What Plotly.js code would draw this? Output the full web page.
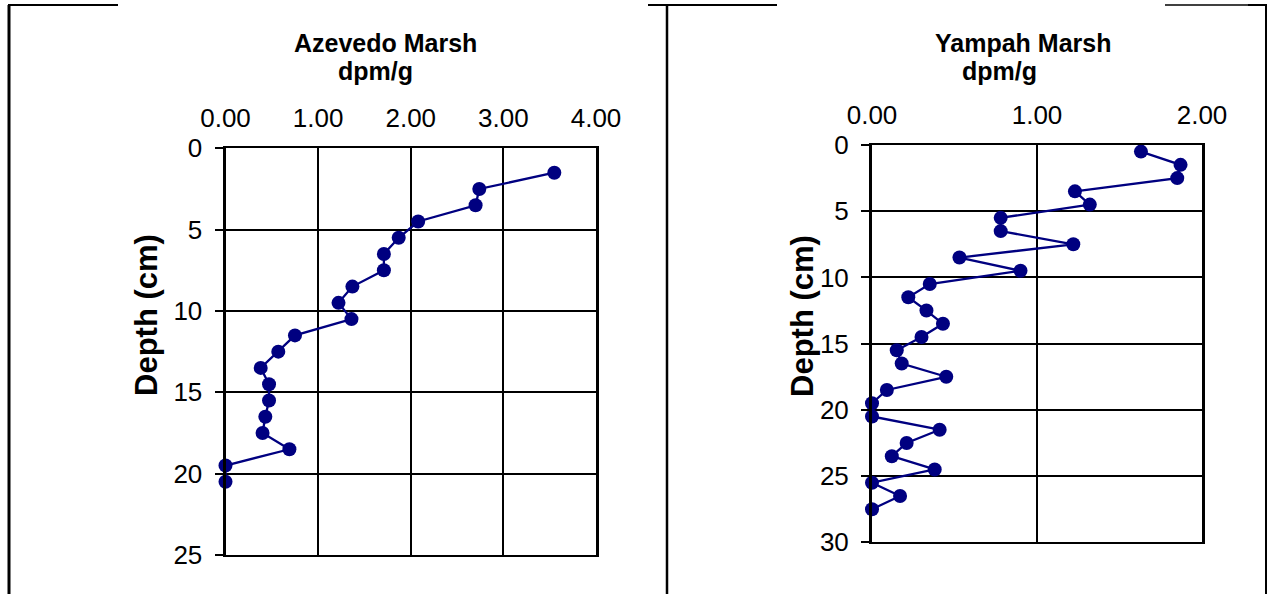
<!DOCTYPE html>
<html>
<head>
<meta charset="utf-8">
<script src="https://cdn.plot.ly/plotly-3.0.1.min.js"></script>
<style>
  html, body { margin: 0; padding: 0; background: #ffffff; }
  #chart { width: 1267px; height: 594px; }
</style>
</head>
<body>
<div id="chart"></div>
<script>
// ---- data ----
const azevedoDepth = [1.5, 2.5, 3.5, 4.5, 5.5, 6.5, 7.5, 8.5, 9.5, 10.5, 11.5, 12.5, 13.5, 14.5, 15.5, 16.5, 17.5, 18.5, 19.5, 20.5];
const azevedoDpm   = [3.55, 2.74, 2.70, 2.08, 1.87, 1.71, 1.71, 1.37, 1.22, 1.36, 0.75, 0.57, 0.38, 0.47, 0.47, 0.43, 0.40, 0.69, 0.00, 0.00];

const yampahDepth = [0.5, 1.5, 2.5, 3.5, 4.5, 5.5, 6.5, 7.5, 8.5, 9.5, 10.5, 11.5, 12.5, 13.5, 14.5, 15.5, 16.5, 17.5, 18.5, 19.5, 20.5, 21.5, 22.5, 23.5, 24.5, 25.5, 26.5, 27.5];
const yampahDpm   = [1.63, 1.87, 1.85, 1.23, 1.32, 0.78, 0.78, 1.22, 0.53, 0.90, 0.35, 0.22, 0.33, 0.43, 0.30, 0.15, 0.18, 0.45, 0.09, 0.00, 0.00, 0.41, 0.21, 0.12, 0.38, 0.00, 0.17, 0.00];

const chartTitles = ["Azevedo Marsh", "Yampah Marsh"];
const unitLabel = "dpm/g";
const depthLabel = "Depth (cm)";

// ---- layout helpers (pixel -> paper) ----
const W = 1267, H = 594;
const px = v => v / W;
const py = v => 1 - v / H;

const FONT = "Liberation Sans, Arial, sans-serif";
const NAVY = "#000080";

function trace(x, y, xa, ya) {
  return {
    x: x, y: y, xaxis: xa, yaxis: ya,
    type: "scatter", mode: "lines+markers",
    line: { color: NAVY, width: 2.3 },
    marker: { color: NAVY, size: 14 },
    cliponaxis: false,
    hoverinfo: "skip"
  };
}

function xAxis(domain, range, anchor) {
  return {
    domain: domain, range: range, anchor: anchor, side: "top",
    dtick: 1, tick0: 0, tickformat: ".2f",
    showgrid: true, gridcolor: "#000", gridwidth: 2,
    zeroline: false,
    showline: true, linecolor: "#000", linewidth: 2, mirror: true,
    ticks: "",
    ticklabelstandoff: 9,
    tickfont: { family: FONT, size: 26, color: "#000" },
    fixedrange: true
  };
}
function yAxis(domain, range, anchor) {
  return {
    domain: domain, range: range, anchor: anchor,
    dtick: 5, tick0: 0,
    showgrid: true, gridcolor: "#000", gridwidth: 2,
    zeroline: false,
    showline: true, linecolor: "#000", linewidth: 3, mirror: true,
    ticks: "outside", ticklen: 8, tickwidth: 2, tickcolor: "#000",
    ticklabelstandoff: 7,
    tickfont: { family: FONT, size: 26, color: "#000" },
    fixedrange: true
  };
}

const data = [
  trace(azevedoDpm, azevedoDepth, "x", "y"),
  trace(yampahDpm, yampahDepth, "x2", "y2")
];

function ann(text, x, y, size, angle) {
  return {
    text: text, xref: "paper", yref: "paper", x: px(x), y: py(y),
    xanchor: "center", yanchor: "middle", showarrow: false,
    textangle: angle || 0, borderpad: 0,
    font: { family: FONT, size: size, color: "#000" }
  };
}

function seg(x0, y0, x1, y1, w) {
  return {
    type: "line", xref: "paper", yref: "paper",
    x0: px(x0), y0: py(y0), x1: px(x1), y1: py(y1),
    line: { color: "#000", width: w }
  };
}

const layout = {
  width: W, height: H,
  margin: { l: 0, r: 0, t: 0, b: 0 },
  paper_bgcolor: "#fff", plot_bgcolor: "#fff",
  showlegend: false,
  xaxis: xAxis([px(225.5), px(596)], [0, 4], "y"),
  yaxis: yAxis([py(555), py(148.3)], [25, 0], "x"),
  xaxis2: xAxis([px(872), px(1202)], [0, 2], "y2"),
  yaxis2: yAxis([py(542.3), py(145)], [30, 0], "x2"),
  annotations: [
    ann("<b>" + chartTitles[0] + "</b>", 386, 43, 25),
    ann("<b>" + unitLabel + "</b>", 375, 71.5, 25),
    ann("<b>" + chartTitles[1] + "</b>", 1023, 43, 25),
    ann("<b>" + unitLabel + "</b>", 1000, 71.5, 25),
    ann("<b>" + depthLabel + "</b>", 146, 315, 31, -90),
    ann("<b>" + depthLabel + "</b>", 802, 316, 31, -90)
  ],
  shapes: [
    seg(8, 5, 118, 5, 2),
    seg(9, 5, 9, 594, 3),
    seg(648, 5, 777, 5, 2),
    seg(667, 5, 667, 594, 2.5),
    seg(1165, 5, 1248, 5, 1.5),
    seg(1248, 5, 1267, 5, 2),
    seg(1266, 5, 1266, 594, 2)
  ]
};

Plotly.newPlot("chart", data, layout, { displayModeBar: false, staticPlot: true });
</script>
</body>
</html>
